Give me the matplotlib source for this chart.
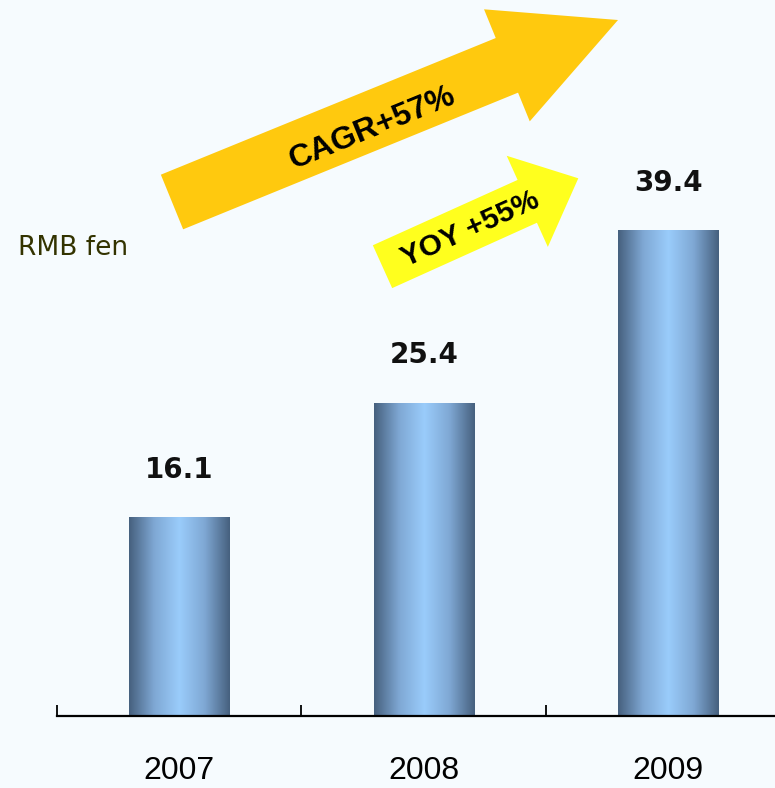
import numpy as np
import matplotlib
matplotlib.use("Agg")
import matplotlib.pyplot as plt
from matplotlib.patches import FancyArrow
from matplotlib.colors import LinearSegmentedColormap

# data
years = ["2007", "2008", "2009"]
values = [16.1, 25.4, 39.4]
unit_label = "RMB fen"
cagr_text = "CAGR+57%"
yoy_text = "YOY +55%"

bg = "#F6FBFE"
fig = plt.figure(figsize=(7.75, 7.88), dpi=100, facecolor=bg)

# main axes: baseline at y=716px, left at x=57px
ax = fig.add_axes([57 / 775, 72 / 788, 718 / 775, 716 / 788])
ax.set_facecolor(bg)

x = np.arange(len(years))
bars = ax.bar(x, values, width=0.41, color="none", edgecolor="none")

# horizontal gradient: dark slate at the edges, light blue in the middle
cmap = LinearSegmentedColormap.from_list("barg", ["#46607E", "#7FA8D4", "#9ACCFB", "#7FA8D4", "#46607E"])
grad = np.linspace(0, 1, 256).reshape(1, -1)
for b in bars:
    x0, y0 = b.get_x(), b.get_y()
    im = ax.imshow(grad, cmap=cmap, aspect="auto", interpolation="bicubic",
                   extent=(x0, x0 + b.get_width(), y0, y0 + b.get_height()), zorder=2)
    im.set_clip_path(b)

for xi, v in zip(x, values):
    ax.annotate(f"{v:.1f}", (xi, v), xytext=(0, 24), textcoords="offset points",
                ha="center", va="bottom", fontsize=20, fontweight="bold",
                family="DejaVu Sans", color="#111111")

ax.set_xlim(-0.5, 2.437)
ax.set_ylim(0, 58.07)

for s in ["left", "right", "top"]:
    ax.spines[s].set_visible(False)
ax.spines["bottom"].set_linewidth(1.6)
ax.set_yticks([])
ax.set_xticks(x)
ax.set_xticklabels(years, fontsize=23, family="Liberation Sans")
ax.tick_params(axis="x", which="major", length=0, pad=29)
ax.set_xticks([-0.5, 0.5, 1.5], minor=True)
ax.tick_params(axis="x", which="minor", direction="in", length=8, width=1.3)

# overlay in pixel coordinates for the growth arrows
ov = fig.add_axes([0, 0, 1, 1])
ov.set_xlim(0, 775)
ov.set_ylim(788, 0)
ov.axis("off")
ov.patch.set_alpha(0)

ov.add_patch(FancyArrow(172, 202, 446, -182, width=59, head_width=121, head_length=120,
                        length_includes_head=True, color="#FFC90E", lw=0))
ov.text(373, 128, cagr_text, rotation=22.2, rotation_mode="anchor", ha="center", va="center",
        fontsize=23, fontweight="bold", family="Liberation Sans", color="black")

ov.add_patch(FancyArrow(382.5, 266.7, 195.8, -88.4, width=47, head_width=100, head_length=56,
                        length_includes_head=True, color="#FFFF1E", lw=0))
ov.text(470, 229, yoy_text, rotation=24.3, rotation_mode="anchor", ha="center", va="center",
        fontsize=21.5, fontweight="bold", family="Liberation Sans", color="black")

ov.text(18, 248, unit_label, ha="left", va="center", fontsize=19, color="#333300",
        family="DejaVu Sans")

fig.savefig("out.png", dpi=100, facecolor=bg)
